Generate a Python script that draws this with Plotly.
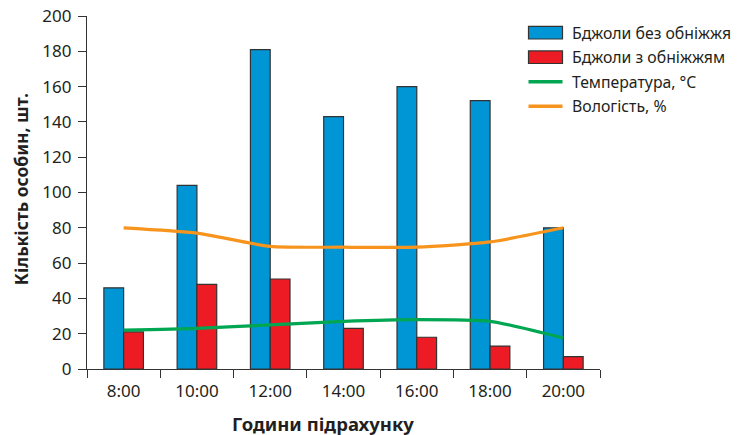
import plotly.graph_objects as go

hours = ["8:00", "10:00", "12:00", "14:00", "16:00", "18:00", "20:00"]
bees_no_pollen = [46, 104, 181, 143, 160, 152, 80]
bees_pollen = [21, 48, 51, 23, 18, 13, 7]
temperature = [22, 23, 25, 27, 28, 27, 17.5]
humidity = [80, 77, 69.5, 69, 69, 72, 80]
series_names = ["Бджоли без обніжжя", "Бджоли з обніжжям", "Температура, °C", "Вологість, %"]
y_ticks = [0, 20, 40, 60, 80, 100, 120, 140, 160, 180, 200]

BLUE = "#0096D6"
RED = "#ED1C24"
GREEN = "#00A651"
ORANGE = "#F7941D"
EDGE = "#333333"
TXT = "#231F20"
FONT = "Noto Sans"

fig = go.Figure()
fig.add_trace(go.Bar(x=hours, y=bees_no_pollen, name=series_names[0],
                     marker=dict(color=BLUE, line=dict(color=EDGE, width=1.2))))
fig.add_trace(go.Bar(x=hours, y=bees_pollen, name=series_names[1],
                     marker=dict(color=RED, line=dict(color=EDGE, width=1.2))))
fig.add_trace(go.Scatter(x=hours, y=temperature, name=series_names[2], mode="lines",
                         line=dict(color=GREEN, width=3.2, shape="spline", smoothing=0.6)))
fig.add_trace(go.Scatter(x=hours, y=humidity, name=series_names[3], mode="lines",
                         line=dict(color=ORANGE, width=3.2, shape="spline", smoothing=0.6)))

# page body has an 8px margin; work in reference-window pixels
OFF = 8
W, H = 744 - OFF, 435 - OFF
PX0, PX1 = 87, 600      # plot area in window pixels
PY0, PY1 = 16.3, 369.3
L, T = PX0 - OFF, PY0 - OFF
R, B = W - (PX1 - OFF), H - (PY1 - OFF)
pw, ph = PX1 - PX0, PY1 - PY0


def px(x):
    return (x - PX0) / pw


def py(y):
    return (PY1 - y) / ph


# custom legend
shapes = []
annotations = []
rows_y = [33, 57.5, 82, 106.5]
sx0, sx1 = 528.5, 562.5
for i, yy in enumerate(rows_y):
    if i < 2:
        shapes.append(dict(type="rect", xref="paper", yref="paper",
                           x0=px(sx0), x1=px(sx1), y0=py(yy + 6.3), y1=py(yy - 6.3),
                           fillcolor=[BLUE, RED][i], line=dict(color=EDGE, width=1.2)))
    else:
        shapes.append(dict(type="line", xref="paper", yref="paper",
                           x0=px(sx0), x1=px(sx1), y0=py(yy), y1=py(yy),
                           line=dict(color=[GREEN, ORANGE][i - 2], width=3.5)))
    annotations.append(dict(text=series_names[i], xref="paper", yref="paper",
                            x=px(570), y=py(yy), xanchor="left", yanchor="middle",
                            showarrow=False, font=dict(family=FONT, size=15.8, color=TXT)))

annotations.append(dict(text="<b>Кількість особин, шт.</b>", xref="paper", yref="paper",
                        x=px(20.5), y=py(190), textangle=-90, showarrow=False,
                        xanchor="center", yanchor="middle",
                        font=dict(family=FONT, size=17.5, color=TXT)))
annotations.append(dict(text="<b>Години підрахунку</b>", xref="paper", yref="paper",
                        x=px(323), y=py(424), showarrow=False,
                        xanchor="center", yanchor="middle",
                        font=dict(family=FONT, size=18.5, color=TXT)))

fig.update_layout(
    width=W, height=H,
    margin=dict(l=L, r=R, t=T, b=B, pad=0, autoexpand=False),
    paper_bgcolor="white", plot_bgcolor="white",
    barmode="group", bargap=0.46, bargroupgap=0,
    showlegend=False,
    shapes=shapes, annotations=annotations,
    font=dict(family=FONT, color=TXT),
)
fig.update_xaxes(type="category", showline=True, linecolor=EDGE, linewidth=1.3,
                 ticks="outside", tickson="boundaries", ticklen=8, tickcolor=EDGE,
                 tickwidth=1.3, showgrid=False, tickfont=dict(size=17, family=FONT, color=TXT),
                 ticklabelstandoff=6, automargin=False)
fig.update_yaxes(range=[0, 200], tickvals=y_ticks, showline=True, linecolor=EDGE,
                 linewidth=1.3, ticks="outside", ticklen=8, tickcolor=EDGE, tickwidth=1.3,
                 showgrid=False, zeroline=False, tickfont=dict(size=17, family=FONT, color=TXT),
                 ticklabelstandoff=3, ticklabeloverflow="allow", automargin=False)

fig.write_html("out.html")
